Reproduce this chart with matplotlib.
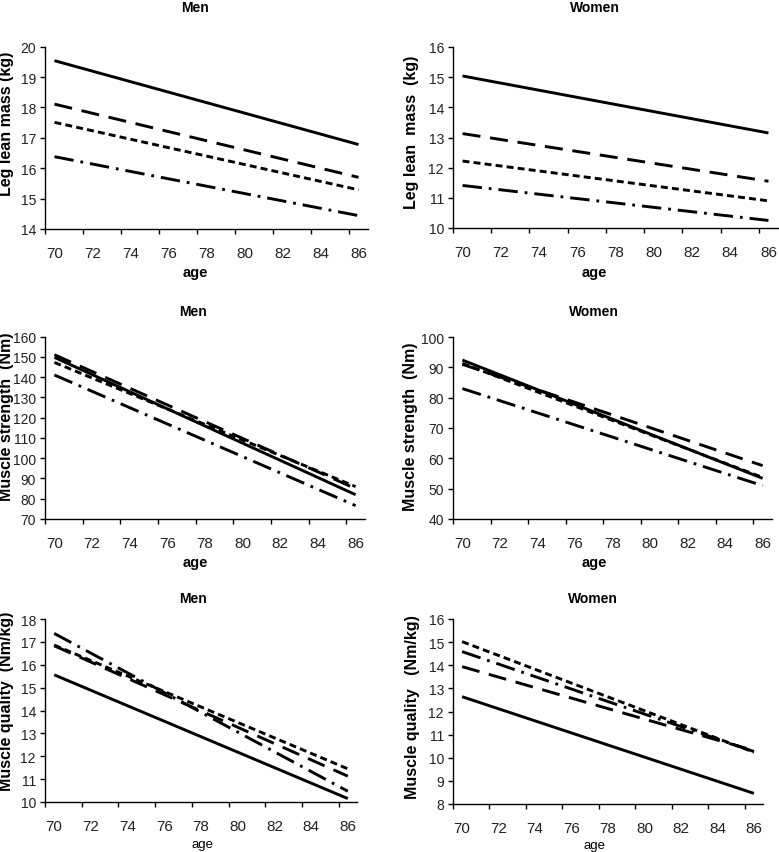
import matplotlib
matplotlib.use("Agg")
import matplotlib.pyplot as plt
import numpy as np

plt.rcParams['font.family'] = ['Liberation Sans', 'DejaVu Sans']
plt.rcParams['lines.scale_dashes'] = False

# regression lines read at age 70 and age 86
ages = [70, 86]

lean_men_solid = [19.54, 16.78]
lean_men_long = [18.11, 15.70]
lean_men_short = [17.51, 15.29]
lean_men_dashdot = [16.38, 14.44]

lean_women_solid = [15.04, 13.15]
lean_women_long = [13.13, 11.55]
lean_women_short = [12.22, 10.90]
lean_women_dashdot = [11.41, 10.25]

strength_men_solid = [149.8, 82.0]
strength_men_long = [151.1, 85.0]
strength_men_short = [147.3, 86.0]
strength_men_dashdot = [141.1, 76.6]

strength_women_solid = [92.4, 53.4]
strength_women_long = [91.0, 57.6]
strength_women_short = [91.3, 53.7]
strength_women_dashdot = [83.0, 51.0]

quality_men_solid = [15.56, 10.15]
quality_men_long = [16.83, 11.13]
quality_men_short = [16.86, 11.45]
quality_men_dashdot = [17.37, 10.47]

quality_women_solid = [12.64, 8.46]
quality_women_long = [13.94, 10.31]
quality_women_short = [15.02, 10.24]
quality_women_dashdot = [14.59, 10.27]

age_labels = [70, 72, 74, 76, 78, 80, 82, 84, 86]

panels = [
    ("Men", "Leg lean mass (kg)", (14, 20, 1),
     [lean_men_solid, lean_men_long, lean_men_short, lean_men_dashdot]),
    ("Women", "Leg lean  mass  (kg)", (10, 16, 1),
     [lean_women_solid, lean_women_long, lean_women_short, lean_women_dashdot]),
    ("Men", "Muscle strength  (Nm)", (70, 160, 10),
     [strength_men_solid, strength_men_long, strength_men_short, strength_men_dashdot]),
    ("Women", "Muscle strength  (Nm)", (40, 100, 10),
     [strength_women_solid, strength_women_long, strength_women_short, strength_women_dashdot]),
    ("Men", "Muscle quality  (Nm/kg)", (10, 18, 1),
     [quality_men_solid, quality_men_long, quality_men_short, quality_men_dashdot]),
    ("Women", "Muscle quality   (Nm/kg)", (8, 16, 1),
     [quality_women_solid, quality_women_long, quality_women_short, quality_women_dashdot]),
]

# layout in pixels: axes box (left, top, right, bottom), title xy, ylabel xy, age label xy
W, H = 779, 853
boxes = [(45, 47.7, 368, 230), (453, 48, 778, 229),
         (45, 337.7, 365, 520), (453, 338, 772, 520),
         (45, 620, 357, 803), (453, 620, 763, 805)]
titles_xy = [(195, 8), (595, 8), (193, 312), (594, 312), (193, 599), (593, 599)]
ylabels_xy = [(7, 124), (411, 132), (7, 417), (410, 427), (7, 701), (412, 707)]
agelabel_xy = [(195, 273), (594, 273), (195, 563), (594, 563), (203, 845), (594, 846)]

styles = [dict(linestyle='-'),
          dict(linestyle=(0, (13, 7))),
          dict(linestyle=(0, (5, 3))),
          dict(linestyle=(0, (14, 5, 2, 5)))]

narrow = ['Liberation Sans Narrow', 'Liberation Sans', 'DejaVu Sans']

fig = plt.figure(figsize=(W / 100, H / 100), dpi=100)

for i, (title, ylabel, (ymin, ymax, ystep), series) in enumerate(panels):
    l, t, r, b = boxes[i]
    ax = fig.add_axes([l / W, 1 - b / H, (r - l) / W, (b - t) / H])
    for vals, st in zip(series, styles):
        ax.plot(ages, vals, color='black', linewidth=2.1, solid_capstyle='butt',
                dash_capstyle='butt', **st)
    ax.set_xlim(69.5, 86.5)
    ax.set_ylim(ymin, ymax)
    ax.set_yticks(np.arange(ymin, ymax + ystep / 2, ystep))
    ax.set_xticks(age_labels)
    ax.set_xticks(np.arange(69.5, 86, 2), minor=True)
    ax.tick_params(axis='x', which='major', length=0, pad=12, labelsize=11)
    ax.tick_params(axis='x', which='minor', length=3.5, width=1, direction='out')
    ax.tick_params(axis='y', length=3.5, width=1, direction='out', pad=3, labelsize=10)
    for s in ['top', 'right']:
        ax.spines[s].set_visible(False)
    for s in ['left', 'bottom']:
        ax.spines[s].set_linewidth(1.0)
    for lab in ax.get_xticklabels():
        lab.set_color('#222222')
    for lab in ax.get_yticklabels():
        lab.set_color('#222222')
        lab.set_family(narrow)

    tx, ty = titles_xy[i]
    fig.text(tx / W, 1 - ty / H, title, ha='center', va='center',
             fontsize=10, fontweight='bold')
    yx, yy = ylabels_xy[i]
    fig.text(yx / W, 1 - yy / H, ylabel, ha='center', va='center', rotation=90,
             fontsize=11.5, fontweight='bold')
    ax_x, ax_y = agelabel_xy[i]
    fig.text(ax_x / W, 1 - ax_y / H, "age", ha='center', va='center',
             fontsize=10.5 if i < 4 else 9.5,
             fontweight='bold' if i < 4 else 'normal')

fig.savefig("out.png", dpi=100)
